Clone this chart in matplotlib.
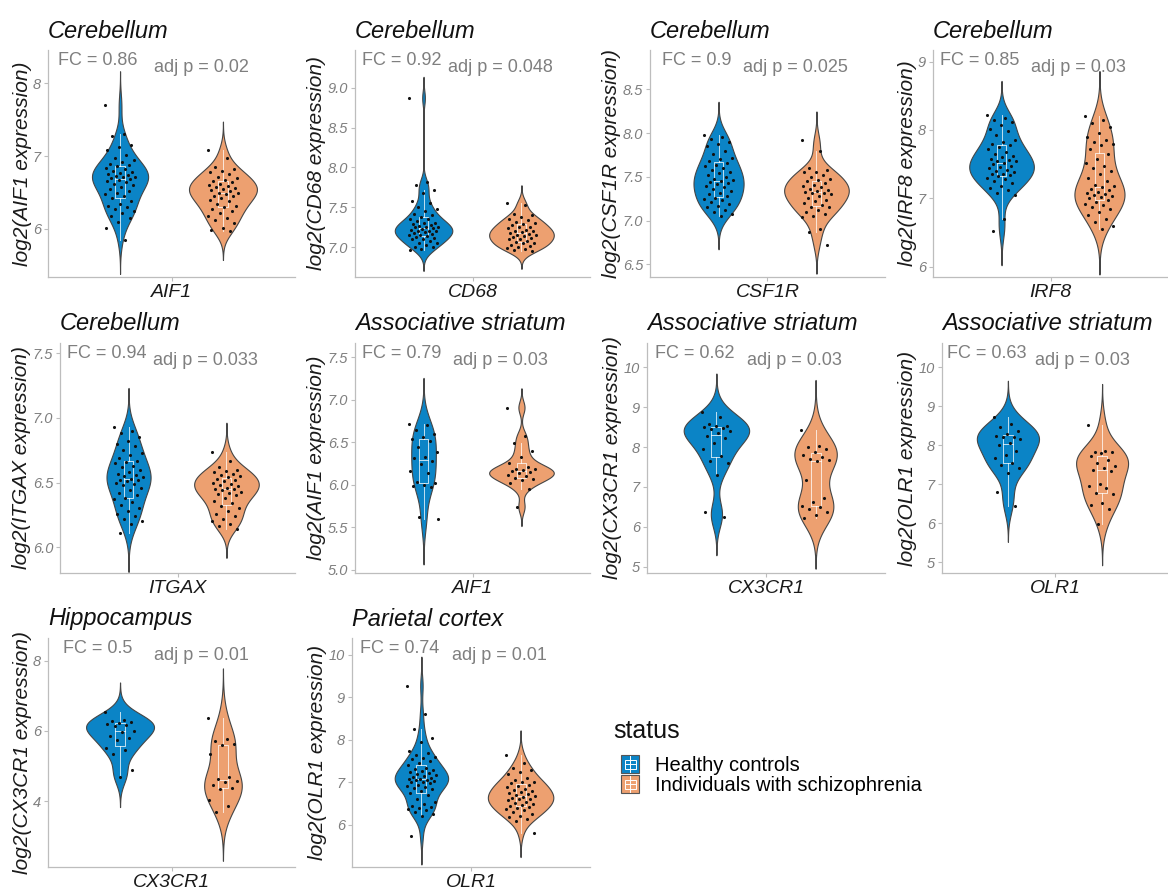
import numpy as np
import matplotlib
matplotlib.use("Agg")
import matplotlib.pyplot as plt
from matplotlib.patches import Rectangle
from matplotlib.lines import Line2D
from matplotlib.legend_handler import HandlerBase

plt.rcParams['font.family'] = ['Liberation Sans', 'DejaVu Sans']

# colours
hc_col = '#0B84C6'
scz_col = '#EDA070'
group_names = ['Healthy controls', 'Individuals with schizophrenia']

# ---- values (log2 expression, one per sample) ----
aif1_cb_hc = [7.70, 7.30, 7.28, 7.15, 7.12, 7.08, 7.02, 6.98, 6.95, 6.92, 6.90, 6.88, 6.86, 6.84,
              6.82, 6.80, 6.78, 6.77, 6.75, 6.74, 6.73, 6.72, 6.71, 6.70, 6.69, 6.68, 6.66, 6.64,
              6.62, 6.60, 6.58, 6.55, 6.52, 6.50, 6.48, 6.46, 6.42, 6.38, 6.35, 6.32, 6.30, 6.28,
              6.25, 6.22, 6.18, 6.15, 6.10, 6.02, 5.85]
aif1_cb_scz = [7.08, 6.98, 6.85, 6.82, 6.80, 6.78, 6.75, 6.72, 6.70, 6.68, 6.66, 6.64, 6.62, 6.60,
               6.59, 6.58, 6.56, 6.55, 6.54, 6.52, 6.50, 6.50, 6.48, 6.46, 6.45, 6.43, 6.40, 6.38,
               6.35, 6.32, 6.30, 6.28, 6.25, 6.22, 6.18, 6.15, 6.12, 6.08, 6.02, 5.98, 5.97]

cd68_cb_hc = [8.87, 7.82, 7.78, 7.72, 7.68, 7.58, 7.55, 7.50, 7.48, 7.45, 7.42, 7.40, 7.38, 7.36,
              7.35, 7.33, 7.31, 7.30, 7.29, 7.28, 7.27, 7.26, 7.25, 7.25, 7.24, 7.23, 7.22, 7.21,
              7.20, 7.20, 7.19, 7.18, 7.17, 7.16, 7.15, 7.14, 7.13, 7.12, 7.11, 7.10, 7.08, 7.06,
              7.05, 7.03, 7.01, 7.00, 6.98, 6.97]
cd68_cb_scz = [7.55, 7.53, 7.42, 7.40, 7.38, 7.36, 7.34, 7.32, 7.30, 7.29, 7.28, 7.26, 7.25, 7.24,
               7.22, 7.21, 7.20, 7.19, 7.18, 7.17, 7.16, 7.15, 7.14, 7.13, 7.12, 7.11, 7.10, 7.08,
               7.07, 7.06, 7.05, 7.03, 7.02, 7.00, 6.99, 6.98, 6.97, 6.96]

csf1r_cb_hc = [7.98, 7.96, 7.93, 7.90, 7.88, 7.85, 7.80, 7.76, 7.72, 7.70, 7.68, 7.66, 7.64, 7.62,
               7.60, 7.58, 7.56, 7.54, 7.52, 7.50, 7.48, 7.46, 7.45, 7.44, 7.43, 7.42, 7.40, 7.38,
               7.36, 7.34, 7.32, 7.30, 7.28, 7.26, 7.25, 7.23, 7.21, 7.19, 7.17, 7.15, 7.12, 7.10,
               7.08, 7.05]
csf1r_cb_scz = [7.92, 7.80, 7.60, 7.58, 7.56, 7.55, 7.52, 7.50, 7.48, 7.46, 7.45, 7.43, 7.41, 7.40,
                7.38, 7.36, 7.35, 7.34, 7.33, 7.32, 7.31, 7.30, 7.28, 7.26, 7.24, 7.22, 7.20, 7.18,
                7.16, 7.15, 7.12, 7.10, 7.08, 7.05, 7.04, 6.90, 6.87, 6.72]

irf8_cb_hc = [8.22, 8.18, 8.15, 8.12, 8.08, 8.02, 7.98, 7.92, 7.85, 7.82, 7.80, 7.78, 7.75, 7.72,
              7.68, 7.65, 7.62, 7.60, 7.58, 7.56, 7.55, 7.54, 7.52, 7.50, 7.48, 7.46, 7.44, 7.42,
              7.40, 7.38, 7.36, 7.35, 7.34, 7.32, 7.30, 7.28, 7.26, 7.22, 7.18, 7.15, 7.12, 7.08,
              7.05, 6.70, 6.52]
irf8_cb_scz = [8.20, 8.15, 8.10, 8.05, 7.95, 7.90, 7.85, 7.82, 7.80, 7.78, 7.72, 7.65, 7.58, 7.52,
               7.48, 7.45, 7.40, 7.35, 7.30, 7.25, 7.20, 7.18, 7.16, 7.14, 7.12, 7.10, 7.08, 7.06,
               7.05, 7.04, 7.02, 7.00, 6.98, 6.95, 6.92, 6.90, 6.88, 6.85, 6.80, 6.75, 6.70, 6.65,
               6.60, 6.55]

itgax_cb_hc = [6.93, 6.90, 6.88, 6.85, 6.82, 6.80, 6.78, 6.75, 6.73, 6.71, 6.69, 6.67, 6.66, 6.65,
               6.63, 6.62, 6.60, 6.58, 6.57, 6.56, 6.55, 6.54, 6.53, 6.52, 6.52, 6.51, 6.50, 6.49,
               6.48, 6.46, 6.44, 6.42, 6.40, 6.38, 6.37, 6.35, 6.33, 6.30, 6.28, 6.26, 6.24, 6.22,
               6.20, 6.18, 6.11]
itgax_cb_scz = [6.74, 6.67, 6.62, 6.60, 6.59, 6.58, 6.57, 6.56, 6.55, 6.54, 6.53, 6.52, 6.51, 6.50,
                6.49, 6.48, 6.47, 6.46, 6.45, 6.45, 6.44, 6.43, 6.42, 6.41, 6.40, 6.38, 6.36, 6.34,
                6.32, 6.30, 6.28, 6.26, 6.24, 6.22, 6.20, 6.18, 6.16, 6.14]

aif1_as_hc = [6.72, 6.70, 6.65, 6.60, 6.56, 6.54, 6.52, 6.45, 6.38, 6.33, 6.31, 6.28, 6.24, 6.16,
              6.14, 6.03, 6.02, 6.00, 5.98, 5.97, 5.62, 5.60]
aif1_as_scz = [6.91, 6.58, 6.49, 6.40, 6.33, 6.26, 6.21, 6.19, 6.18, 6.17, 6.16, 6.15, 6.14, 6.12,
               6.10, 6.08, 6.07, 6.05, 6.02, 5.95, 5.74]

cx3cr1_as_hc = [8.88, 8.75, 8.58, 8.54, 8.52, 8.50, 8.47, 8.44, 8.40, 8.34, 8.27, 8.22, 8.10, 7.96,
                7.78, 7.65, 7.60, 7.30, 6.37, 6.25]
cx3cr1_as_scz = [8.42, 8.02, 8.00, 7.95, 7.88, 7.80, 7.75, 7.70, 7.68, 7.66, 7.18, 6.73, 6.62, 6.52,
                 6.50, 6.45, 6.38, 6.30, 6.21]

olr1_as_hc = [8.73, 8.55, 8.46, 8.36, 8.30, 8.25, 8.22, 8.20, 8.15, 8.07, 8.02, 7.85, 7.75, 7.68,
              7.55, 7.50, 7.42, 7.30, 6.80, 6.45]
olr1_as_scz = [8.52, 7.85, 7.84, 7.82, 7.80, 7.72, 7.62, 7.55, 7.46, 7.42, 7.38, 7.35, 7.00, 6.97,
               6.90, 6.78, 6.76, 6.52, 6.46, 6.38, 5.98]

cx3cr1_hip_hc = [6.53, 6.30, 6.28, 6.25, 6.22, 6.20, 6.17, 6.14, 6.00, 5.97, 5.85, 5.80, 5.74, 5.50,
                 5.47, 5.35, 4.88, 4.68]
cx3cr1_hip_scz = [6.38, 5.78, 5.72, 5.63, 5.60, 5.33, 4.68, 4.62, 4.58, 4.53, 4.45, 4.38, 4.33, 4.02,
                  3.85, 3.70]

olr1_pc_hc = [9.28, 8.62, 8.25, 8.05, 7.95, 7.75, 7.70, 7.65, 7.60, 7.58, 7.55, 7.50, 7.45, 7.40,
              7.35, 7.32, 7.30, 7.28, 7.25, 7.22, 7.20, 7.18, 7.15, 7.12, 7.10, 7.08, 7.07, 7.06,
              7.05, 7.04, 7.02, 7.00, 6.98, 6.95, 6.92, 6.90, 6.88, 6.85, 6.80, 6.75, 6.70, 6.62,
              6.55, 6.50, 6.45, 6.42, 6.40, 6.38, 6.35, 6.30, 6.25, 6.22, 5.75]
olr1_pc_scz = [7.65, 7.45, 7.35, 7.30, 7.25, 7.20, 7.10, 7.05, 7.02, 7.00, 6.98, 6.95, 6.92, 6.90,
               6.85, 6.82, 6.80, 6.78, 6.75, 6.72, 6.70, 6.68, 6.65, 6.63, 6.62, 6.60, 6.58, 6.55,
               6.52, 6.50, 6.48, 6.45, 6.42, 6.40, 6.38, 6.35, 6.30, 6.25, 6.20, 6.18, 6.15, 6.10,
               5.82]

regions = ['Cerebellum', 'Cerebellum', 'Cerebellum', 'Cerebellum', 'Cerebellum',
           'Associative striatum', 'Associative striatum', 'Associative striatum',
           'Hippocampus', 'Parietal cortex']
genes = ['AIF1', 'CD68', 'CSF1R', 'IRF8', 'ITGAX', 'AIF1', 'CX3CR1', 'OLR1', 'CX3CR1', 'OLR1']
fc_labels = ['0.86', '0.92', '0.9', '0.85', '0.94', '0.79', '0.62', '0.63', '0.5', '0.74']
p_labels = ['0.02', '0.048', '0.025', '0.03', '0.033', '0.03', '0.03', '0.03', '0.01', '0.01']
hc_data = [aif1_cb_hc, cd68_cb_hc, csf1r_cb_hc, irf8_cb_hc, itgax_cb_hc,
           aif1_as_hc, cx3cr1_as_hc, olr1_as_hc, cx3cr1_hip_hc, olr1_pc_hc]
scz_data = [aif1_cb_scz, cd68_cb_scz, csf1r_cb_scz, irf8_cb_scz, itgax_cb_scz,
            aif1_as_scz, cx3cr1_as_scz, olr1_as_scz, cx3cr1_hip_scz, olr1_pc_scz]
y_ticks = [[6, 7, 8], [7.0, 7.5, 8.0, 8.5, 9.0], [6.5, 7.0, 7.5, 8.0, 8.5], [6, 7, 8, 9],
           [6.0, 6.5, 7.0, 7.5], [5.0, 5.5, 6.0, 6.5, 7.0, 7.5], [5, 6, 7, 8, 9, 10],
           [5, 6, 7, 8, 9, 10], [4, 6, 8], [6, 7, 8, 9, 10]]
y_limits = [(5.34, 8.46), (6.63, 9.47), (6.355, 8.95), (5.85, 9.17), (5.80, 7.58),
            (4.96, 7.67), (4.84, 10.61), (4.73, 10.62), (2.12, 8.65), (5.01, 10.40)]

# panel boxes in pixels: left, top, right, bottom
boxes = [(48, 50, 295, 277), (355, 50, 590, 277), (650, 50, 885, 277), (933, 50, 1168, 277),
         (60, 343, 295, 573), (355, 343, 590, 573), (647, 343, 885, 573), (942, 343, 1168, 573),
         (48, 638, 295, 867), (352, 638, 590, 867)]

W, H = 1168, 891
grey = '#7f7f7f'
axis_col = '#bdbdbd'


def nrd0(x):
    hi = np.std(x, ddof=1)
    q75, q25 = np.percentile(x, [75, 25])
    lo = min(hi, (q75 - q25) / 1.34)
    if lo == 0:
        lo = hi
    return 0.9 * lo * len(x) ** -0.2


def kde(x, adjust=1.15):
    x = np.asarray(x)
    bw = nrd0(x) * adjust
    grid = np.linspace(x.min() - 3 * bw, x.max() + 3 * bw, 512)
    z = (grid[:, None] - x[None, :]) / bw
    dens = np.exp(-0.5 * z ** 2).sum(axis=1) / (len(x) * bw * np.sqrt(2 * np.pi))
    return grid, dens


def draw_group(ax, vals, pos, col, dens_max, grid, dens):
    vals = np.asarray(vals)
    hw = dens / dens_max * 0.165
    ax.fill_betweenx(grid, pos - hw, pos + hw, facecolor=col, edgecolor='#454545', lw=0.8, zorder=1)
    # inner boxplot
    q1, med, q3 = np.percentile(vals, [25, 50, 75])
    iqr = q3 - q1
    lo = vals[vals >= q1 - 1.5 * iqr].min()
    hi = vals[vals <= q3 + 1.5 * iqr].max()
    bw_ = 0.025
    lc = dict(color='white', lw=0.7, alpha=0.75, zorder=2)
    ax.plot([pos - bw_, pos + bw_, pos + bw_, pos - bw_, pos - bw_], [q1, q1, q3, q3, q1], **lc)
    ax.plot([pos - bw_, pos + bw_], [med, med], **lc)
    ax.plot([pos, pos], [q3, hi], **lc)
    ax.plot([pos, pos], [lo, q1], **lc)
    # jittered points (deterministic spread)
    n = len(vals)
    offs = ((np.arange(n) * 0.618034) % 1 - 0.5) * 0.15
    ax.scatter(pos + offs, vals, s=5, color='#111111', lw=0, zorder=3)


fig = plt.figure(figsize=(W / 100, H / 100), dpi=100)

for i in range(len(genes)):
    l, t, r, b = boxes[i]
    ax = fig.add_axes([l / W, 1 - b / H, (r - l) / W, (b - t) / H])
    g1, d1 = kde(hc_data[i])
    g2, d2 = kde(scz_data[i])
    dmax = max(d1.max(), d2.max())
    draw_group(ax, hc_data[i], 0.75, hc_col, dmax, g1, d1)
    draw_group(ax, scz_data[i], 1.25, scz_col, dmax, g2, d2)

    ax.set_xlim(0.4, 1.6)
    ax.set_ylim(*y_limits[i])
    ax.set_xticks([1])
    ax.set_xticklabels([''])
    ax.set_yticks(y_ticks[i])
    ax.set_yticklabels([('%g' % v) if i not in (1, 2, 4, 5) else ('%.1f' % v) for v in y_ticks[i]],
                       fontsize=10.5, color=grey, style='italic')
    ax.tick_params(axis='both', color=axis_col, length=3, width=0.8, pad=2)
    for s in ['top', 'right']:
        ax.spines[s].set_visible(False)
    for s in ['left', 'bottom']:
        ax.spines[s].set_color(axis_col)
        ax.spines[s].set_linewidth(0.9)
    ax.set_xlabel(genes[i], fontsize=14, style='italic', color='#1a1a1a', labelpad=0)
    ax.set_ylabel('log2(' + genes[i] + ' expression)', fontsize=15, style='italic',
                  color='#1a1a1a', labelpad=1)
    ax.set_title(regions[i], loc='left', fontsize=17, style='italic', color='#111111', pad=9)
    ax.text(0.20, 0.955, 'FC = ' + fc_labels[i], transform=ax.transAxes, fontsize=13,
            color=grey, ha='center', va='center')
    ax.text(0.62, 0.925, 'adj p = ' + p_labels[i], transform=ax.transAxes, fontsize=13,
            color=grey, ha='center', va='center')


class BoxKey(HandlerBase):
    def create_artists(self, legend, orig_handle, xdescent, ydescent, width, height, fontsize, trans):
        col = orig_handle.get_facecolor()
        sq = Rectangle((-xdescent, -ydescent), width, height, facecolor=col,
                       edgecolor='#555555', lw=0.8, transform=trans)
        bx = Rectangle((-xdescent + width * 0.2, -ydescent + height * 0.25), width * 0.6, height * 0.5,
                       facecolor='none', edgecolor='white', lw=0.7, transform=trans)
        md = Line2D([-xdescent + width * 0.2, -xdescent + width * 0.8],
                    [-ydescent + height * 0.5] * 2, color='white', lw=0.7, transform=trans)
        wk = Line2D([-xdescent + width * 0.5] * 2, [-ydescent + height * 0.05, -ydescent + height * 0.95],
                    color='white', lw=0.7, transform=trans)
        return [sq, bx, md, wk]


fig.text(613 / W, 1 - 731 / H, 'status', fontsize=18, color='#111111', ha='left', va='center')
handles = [Rectangle((0, 0), 1, 1, facecolor=hc_col), Rectangle((0, 0), 1, 1, facecolor=scz_col)]
leg = fig.legend(handles, group_names, loc='upper left', bbox_to_anchor=(607 / W, 1 - 741 / H),
                 fontsize=14.5, frameon=False,
                 handler_map={Rectangle: BoxKey()}, handlelength=0.9, handleheight=1.0,
                 handletextpad=0.8, labelspacing=0.0, borderpad=0.2)

fig.savefig('out.png', dpi=100)
